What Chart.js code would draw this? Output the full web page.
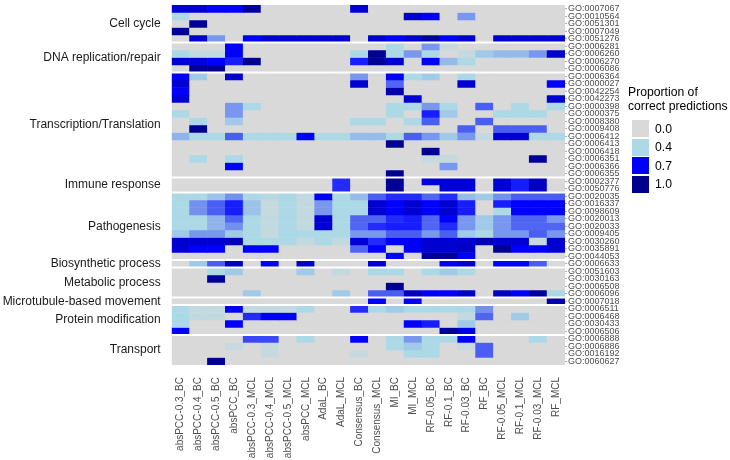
<!DOCTYPE html>
<html>
<head>
<meta charset="utf-8">
<script src="https://cdn.jsdelivr.net/npm/chart.js@4/dist/chart.umd.min.js"></script>
<style>
  html, body { margin: 0; padding: 0; background: #fff; }
  #wrap { position: relative; width: 730px; height: 460px; }
  #legend { position: absolute; left: 628px; top: 85px; font-family: "Liberation Sans", Arial, sans-serif; color: #000; white-space: nowrap; }
  #legend .title { font-size: 12.2px; line-height: 14px; margin-bottom: 7px; }
  #legend .row { display: flex; align-items: center; height: 17px; margin-bottom: 1.5px; margin-left: 4px; }
  #legend .key { width: 17px; height: 17px; margin-right: 6px; }
  #legend .lbl { font-size: 12.2px; }
</style>
</head>
<body>
<div id="wrap">
  <canvas id="chart" width="730" height="460"></canvas>
  <div id="legend"></div>
</div>
<script>
const columns = [
  'absPCC-0.3_BC', 'absPCC-0.4_BC', 'absPCC-0.5_BC', 'absPCC_BC',
  'absPCC-0.3_MCL', 'absPCC-0.4_MCL', 'absPCC-0.5_MCL', 'absPCC_MCL',
  'AdaL_BC', 'AdaL_MCL', 'Consensus_BC', 'Consensus_MCL', 'MI_BC', 'MI_MCL',
  'RF-0.05_BC', 'RF-0.1_BC', 'RF-0.03_BC', 'RF_BC',
  'RF-0.05_MCL', 'RF-0.1_MCL', 'RF-0.03_MCL', 'RF_MCL'
];

const goTerms = [
  'GO:0007067', 'GO:0010564', 'GO:0051301', 'GO:0007049', 'GO:0051276',
  'GO:0006281', 'GO:0006260', 'GO:0006270', 'GO:0006086',
  'GO:0006364', 'GO:0000027', 'GO:0042254', 'GO:0042273', 'GO:0000398', 'GO:0000375',
  'GO:0008380', 'GO:0009408', 'GO:0006412', 'GO:0006413', 'GO:0006418', 'GO:0006351',
  'GO:0006366', 'GO:0006355',
  'GO:0002377', 'GO:0050776',
  'GO:0020035', 'GO:0016337', 'GO:0098609', 'GO:0020013', 'GO:0020033', 'GO:0009405',
  'GO:0030260', 'GO:0035891', 'GO:0044053',
  'GO:0006633',
  'GO:0051603', 'GO:0030163', 'GO:0006508', 'GO:0006096',
  'GO:0007018',
  'GO:0006511', 'GO:0006468', 'GO:0030433', 'GO:0006506',
  'GO:0006888', 'GO:0006886', 'GO:0016192', 'GO:0060627'
];

const groupNames = [
  'Cell cycle', 'DNA replication/repair', 'Transcription/Translation', 'Immune response',
  'Pathogenesis', 'Biosynthetic process', 'Metabolic process', 'Microtubule-based movement',
  'Protein modification', 'Transport'
];
const groupSizes = [5, 4, 14, 2, 9, 1, 4, 1, 4, 4];

// proportion of correct predictions, one row per GO term, one value per column
const proportions = [
  [0.82, 0.82, 0.7, 0.7, 0.97, 0, 0, 0, 0, 0, 0.82, 0, 0, 0, 0, 0, 0, 0, 0, 0, 0, 0],
  [0.4, 0, 0, 0, 0, 0, 0, 0, 0, 0, 0, 0, 0, 0.82, 0.7, 0, 0.49, 0, 0, 0, 0, 0],
  [0, 0.97, 0, 0, 0, 0, 0, 0, 0, 0, 0, 0, 0, 0, 0, 0, 0, 0, 0, 0, 0, 0],
  [0.97, 0, 0, 0, 0, 0, 0, 0, 0, 0, 0, 0, 0, 0, 0, 0, 0, 0, 0, 0, 0, 0],
  [0, 0.82, 0.49, 0, 0.7, 0.82, 0.82, 0.82, 0.82, 0.82, 0, 0.82, 0.7, 0.82, 0.95, 0.7, 0.82, 0, 0.82, 0.82, 0.82, 0.82],
  [0, 0, 0, 0.7, 0, 0, 0, 0, 0, 0, 0, 0, 0.4, 0, 0.49, 0.18, 0, 0, 0, 0, 0, 0],
  [0.4, 0.2, 0.2, 0.7, 0, 0, 0, 0, 0, 0, 0.4, 0.97, 0.4, 0.49, 0.4, 0, 0.18, 0.42, 0.44, 0.44, 0.49, 0.82],
  [0.82, 0.8, 0.7, 0.66, 0.97, 0, 0, 0, 0, 0, 0.66, 0.97, 0.82, 0, 0.7, 0.44, 0.4, 0, 0, 0, 0, 0],
  [0, 0.97, 0.97, 0, 0, 0, 0, 0, 0, 0, 0, 0, 0, 0, 0, 0, 0, 0, 0, 0, 0, 0],
  [0.7, 0.42, 0, 0.82, 0, 0, 0, 0, 0, 0, 0.49, 0, 0.7, 0.4, 0.42, 0, 0.4, 0, 0, 0, 0, 0],
  [0.82, 0, 0, 0, 0, 0, 0, 0, 0, 0, 0.82, 0, 0.56, 0, 0, 0, 0.82, 0, 0, 0, 0, 0.7],
  [0.7, 0, 0, 0, 0, 0, 0, 0, 0, 0, 0, 0, 0.92, 0, 0, 0, 0, 0, 0, 0, 0, 0],
  [0.82, 0, 0, 0, 0, 0, 0, 0, 0, 0, 0, 0, 0, 0.82, 0, 0, 0, 0, 0, 0, 0, 0.82],
  [0, 0, 0, 0.49, 0.4, 0, 0, 0, 0, 0, 0, 0, 0.4, 0.4, 0.49, 0.4, 0, 0.57, 0, 0.4, 0, 0.4],
  [0.4, 0, 0, 0.49, 0, 0, 0, 0, 0, 0, 0, 0, 0.4, 0, 0.66, 0.42, 0, 0, 0.4, 0.4, 0.4, 0],
  [0, 0.4, 0, 0.42, 0, 0, 0, 0, 0, 0, 0.4, 0.4, 0, 0.4, 0.57, 0, 0, 0.57, 0, 0, 0, 0],
  [0, 0.97, 0, 0, 0, 0, 0, 0, 0, 0, 0, 0, 0, 0, 0, 0, 0.57, 0, 0.57, 0.57, 0.57, 0],
  [0.45, 0.4, 0.4, 0.57, 0.4, 0.4, 0.4, 0.7, 0.4, 0.4, 0.44, 0.44, 0.4, 0.57, 0.49, 0.42, 0.49, 0.2, 0.82, 0.82, 0.4, 0.4],
  [0, 0, 0, 0, 0, 0, 0, 0, 0, 0, 0, 0, 0.97, 0, 0, 0, 0, 0, 0, 0, 0, 0],
  [0, 0, 0, 0, 0, 0, 0, 0, 0, 0, 0, 0, 0, 0, 0.97, 0, 0, 0, 0, 0, 0, 0],
  [0, 0.4, 0, 0.4, 0, 0, 0, 0, 0, 0, 0, 0, 0, 0, 0.18, 0.18, 0, 0, 0, 0, 0.97, 0],
  [0, 0, 0, 0.7, 0, 0, 0, 0, 0, 0, 0, 0, 0, 0, 0, 0.49, 0, 0, 0, 0, 0, 0],
  [0, 0, 0, 0, 0, 0, 0, 0, 0, 0, 0, 0, 0.97, 0, 0, 0, 0, 0, 0, 0, 0, 0],
  [0, 0, 0, 0, 0, 0, 0, 0, 0, 0.64, 0, 0, 0.97, 0, 0.8, 0.8, 0.8, 0, 0.8, 0.66, 0.85, 0],
  [0, 0, 0, 0, 0, 0, 0, 0, 0, 0.64, 0, 0, 0.97, 0, 0, 0.8, 0.8, 0, 0.8, 0.66, 0.85, 0],
  [0.4, 0.4, 0.43, 0.5, 0.4, 0.3, 0.4, 0.2, 0.7, 0.4, 0.44, 0.57, 0.64, 0.64, 0.56, 0.64, 0.44, 0.42, 0.5, 0.57, 0.57, 0.57],
  [0.4, 0.5, 0.57, 0.66, 0.43, 0.18, 0.4, 0.2, 0.49, 0.4, 0.4, 0.82, 0.7, 0.82, 0.7, 0.82, 0.66, 0, 0.66, 0.7, 0.7, 0.7],
  [0.4, 0.5, 0.57, 0.66, 0.43, 0.18, 0.4, 0.2, 0.49, 0.4, 0.4, 0.82, 0.7, 0.82, 0.7, 0.82, 0.66, 0, 0.4, 0.7, 0.7, 0.7],
  [0.4, 0.4, 0.45, 0.56, 0.4, 0.2, 0.4, 0.2, 0.82, 0.4, 0.56, 0.56, 0.64, 0.66, 0.56, 0.7, 0.49, 0.42, 0.49, 0.56, 0.56, 0.49],
  [0.4, 0.4, 0.45, 0.5, 0.4, 0.2, 0.4, 0.2, 0.82, 0.4, 0.56, 0.64, 0.66, 0.66, 0.56, 0.64, 0.49, 0.42, 0.49, 0.56, 0.56, 0.56],
  [0.42, 0.49, 0.49, 0.42, 0.4, 0.18, 0.4, 0.4, 0.4, 0.4, 0.49, 0.49, 0.57, 0.57, 0.49, 0.57, 0.42, 0.4, 0.49, 0.49, 0.57, 0.49],
  [0.82, 0.82, 0.82, 0.88, 0.4, 0.4, 0.4, 0.2, 0.4, 0.2, 0.8, 0.64, 0.7, 0.7, 0.82, 0.82, 0.82, 0.9, 0.82, 0.82, 0.18, 0.82],
  [0.82, 0.7, 0.7, 0, 0.7, 0.7, 0, 0, 0, 0, 0.56, 0.7, 0, 0.7, 0.82, 0.82, 0.85, 0, 0.97, 0.7, 0.7, 0.82],
  [0, 0, 0, 0, 0, 0, 0, 0, 0, 0, 0, 0, 0.7, 0, 0.97, 0.97, 0.7, 0, 0, 0, 0, 0],
  [0, 0.42, 0.57, 0.88, 0, 0.7, 0, 0.82, 0, 0, 0, 0.82, 0, 0, 0, 0.7, 0.82, 0, 0.7, 0.7, 0.57, 0],
  [0, 0, 0.4, 0.42, 0, 0, 0, 0.42, 0, 0.2, 0, 0.4, 0.4, 0, 0.4, 0.42, 0.4, 0, 0, 0, 0, 0],
  [0, 0, 0.97, 0, 0, 0, 0, 0, 0, 0, 0, 0, 0, 0, 0, 0, 0, 0, 0, 0, 0, 0],
  [0, 0, 0, 0, 0, 0, 0, 0, 0, 0, 0, 0, 0.97, 0, 0, 0, 0, 0, 0, 0, 0, 0],
  [0, 0, 0, 0, 0.42, 0, 0, 0, 0, 0.42, 0, 0.57, 0.57, 0.85, 0.7, 0.7, 0.85, 0, 0.85, 0.7, 0.95, 0.4],
  [0, 0, 0, 0, 0, 0, 0, 0, 0, 0, 0, 0.7, 0, 0.7, 0, 0, 0, 0, 0, 0, 0, 0.92],
  [0.4, 0.2, 0.2, 0.7, 0.2, 0.2, 0.2, 0.4, 0, 0, 0.64, 0.4, 0.42, 0.4, 0.4, 0.4, 0.4, 0.5, 0, 0, 0, 0],
  [0.4, 0.2, 0.2, 0, 0.64, 0.7, 0.7, 0, 0, 0, 0, 0, 0, 0, 0, 0, 0.2, 0.56, 0, 0.42, 0, 0],
  [0.4, 0, 0, 0.7, 0, 0, 0, 0, 0, 0, 0, 0, 0, 0.7, 0.66, 0, 0.42, 0, 0, 0, 0, 0],
  [0.7, 0, 0, 0, 0, 0, 0, 0, 0, 0, 0, 0, 0, 0, 0, 0.97, 0.76, 0, 0, 0, 0, 0],
  [0, 0, 0, 0, 0.6, 0.6, 0, 0.4, 0, 0, 0.7, 0, 0.4, 0.49, 0.4, 0.4, 0.7, 0, 0, 0, 0.4, 0],
  [0, 0, 0, 0.18, 0, 0.18, 0, 0, 0, 0, 0, 0, 0.4, 0.42, 0.4, 0, 0.18, 0.57, 0, 0, 0, 0],
  [0, 0, 0, 0, 0, 0.18, 0, 0, 0, 0, 0.18, 0, 0, 0.4, 0.4, 0, 0, 0.57, 0, 0, 0, 0],
  [0, 0, 0.97, 0, 0, 0, 0, 0, 0, 0, 0, 0, 0, 0, 0, 0, 0, 0, 0, 0, 0, 0]
];

const legendBreaks = [0.0, 0.4, 0.7, 1.0];
const colorStopValues = [0, 0.4, 0.7, 1];
const colorStopHex = ['#D9D9D9', '#ADD8E6', '#0000FF', '#00008B'];

function hexToRgb(hex) {
  const n = parseInt(hex.slice(1), 16);
  return [(n >> 16) & 255, (n >> 8) & 255, n & 255];
}

const stopRgb = colorStopHex.map(hexToRgb);

// linear rgb ramp between the stops
function colorFor(v) {
  let i = 0;
  while (i < colorStopValues.length - 2 && v > colorStopValues[i + 1]) i++;
  const t = (v - colorStopValues[i]) / (colorStopValues[i + 1] - colorStopValues[i]);
  const a = stopRgb[i], b = stopRgb[i + 1];
  const rgb = [0, 1, 2].map((j) => Math.round(a[j] + (b[j] - a[j]) * t));
  return `rgb(${rgb[0]},${rgb[1]},${rgb[2]})`;
}

const groupStarts = groupSizes.map((_, i) => groupSizes.slice(0, i).reduce((s, n) => s + n, 0));
const groupCenters = groupStarts.map((s, i) => s + groupSizes[i] / 2);
const groupBoundaries = groupStarts.slice(1);

const datasets = goTerms.map((go, r) => ({
  label: go,
  data: columns.map(() => [r, r + 1]),
  backgroundColor: proportions[r].map(colorFor),
  borderWidth: 0,
  barPercentage: 1,
  categoryPercentage: 1,
  grouped: false,
}));

const separatorPlugin = {
  id: 'separators',
  afterDatasetsDraw(chart) {
    const { ctx, chartArea, scales } = chart;
    ctx.save();
    ctx.strokeStyle = '#ffffff';
    ctx.lineWidth = 1.8;
    groupBoundaries.forEach((b) => {
      const y = scales.y.getPixelForValue(b);
      ctx.beginPath();
      ctx.moveTo(chartArea.left, y);
      ctx.lineTo(chartArea.right, y);
      ctx.stroke();
    });
    ctx.restore();
  },
};

function noPad(scale) {
  scale.paddingTop = 0;
  scale.paddingBottom = 0;
  scale.paddingLeft = 0;
  scale.paddingRight = 0;
}

const fontFamily = '"Liberation Sans", Arial, sans-serif';

new Chart(document.getElementById('chart'), {
  type: 'bar',
  data: { labels: columns, datasets },
  options: {
    responsive: false,
    animation: false,
    devicePixelRatio: 1,
    layout: { padding: { top: 5, left: 0, right: 0, bottom: 0 } },
    plugins: { legend: { display: false }, tooltip: { enabled: false } },
    scales: {
      x: {
        type: 'category',
        grid: { display: false },
        border: { display: false },
        ticks: {
          autoSkip: false,
          minRotation: 90,
          maxRotation: 90,
          padding: 4,
          color: '#4d4d4d',
          font: { family: fontFamily, size: 10 },
        },
        afterFit(scale) { noPad(scale); scale.height = 95; },
      },
      y: {
        type: 'linear',
        position: 'left',
        min: 0,
        max: goTerms.length,
        reverse: true,
        grid: { display: false },
        border: { display: false },
        afterBuildTicks(scale) { scale.ticks = groupCenters.map((v) => ({ value: v })); },
        ticks: {
          autoSkip: false,
          padding: 3,
          color: '#1a1a1a',
          font: { family: fontFamily, size: 12 },
          callback: (v, i) => groupNames[i],
        },
        afterFit(scale) { noPad(scale); scale.width = 171.7; },
      },
      go: {
        type: 'linear',
        position: 'right',
        min: 0,
        max: goTerms.length,
        reverse: true,
        grid: { display: true, drawOnChartArea: false, tickLength: 2, color: '#b0b0b0' },
        border: { display: false },
        afterBuildTicks(scale) { scale.ticks = goTerms.map((_, r) => ({ value: r + 0.5 })); },
        ticks: {
          autoSkip: false,
          padding: 1,
          color: '#4d4d4d',
          font: { family: fontFamily, size: 9 },
          callback: (v, i) => goTerms[i],
        },
        afterFit(scale) { noPad(scale); scale.width = 165; },
      },
    },
  },
  plugins: [separatorPlugin],
});

// legend keys use the same ramp as the tiles
const legend = document.getElementById('legend');
legend.innerHTML = '<div class="title">Proportion of<br>correct predictions</div>';
legendBreaks.forEach((v) => {
  const row = document.createElement('div');
  row.className = 'row';
  const key = document.createElement('div');
  key.className = 'key';
  key.style.background = colorFor(v);
  const lbl = document.createElement('span');
  lbl.className = 'lbl';
  lbl.textContent = v.toFixed(1);
  row.appendChild(key);
  row.appendChild(lbl);
  legend.appendChild(row);
});
</script>
</body>
</html>
